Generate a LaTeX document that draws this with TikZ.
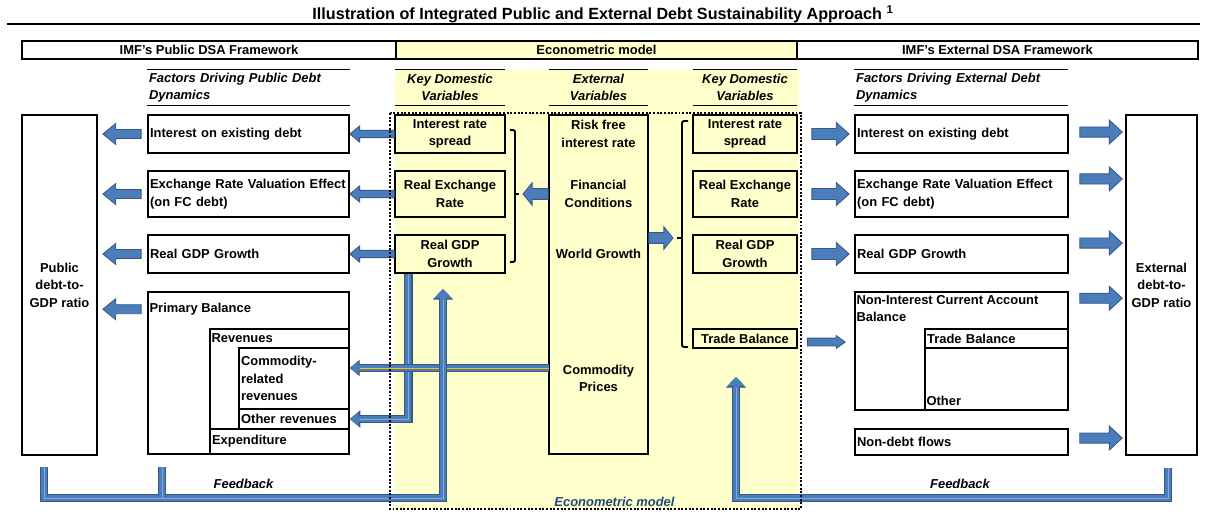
\documentclass[tikz,border=0pt]{standalone}
\usepackage{fontspec}
\setmainfont{Liberation Sans}
\usetikzlibrary{arrows.meta,calc,positioning}

\definecolor{yel}{HTML}{FFFFCC}
\definecolor{arrfill}{HTML}{4A7DBA}
\definecolor{arrline}{HTML}{34598A}
\definecolor{arrlight}{HTML}{86A9D8}
\definecolor{gold}{HTML}{FFC000}
\definecolor{econblue}{HTML}{1F497D}

\begin{document}
\begin{tikzpicture}[x=0.025cm,y=-0.025cm,
  every node/.append style={align=center},
  font=\fontsize{9.2}{12.4}\selectfont\bfseries,
  box/.style={draw, line width=1.1pt, inner sep=0pt},
  lbox/.style={draw, line width=1.1pt, inner ysep=0pt, inner xsep=1.5pt, align=left},
  lbl/.style={inner xsep=1.5pt, inner ysep=0pt, align=left},
  sub/.style={inner xsep=1.5pt, inner ysep=0pt, minimum height=0.875cm, font=\fontsize{9.2}{12.4}\selectfont\bfseries\itshape},
  rule/.style={line width=1.1pt},
  brack/.style={line width=1.4pt, rounded corners=1.5pt},
  blk/.style n args={5}{draw=arrline, fill=arrfill, line width=0.6pt,
    to path={let \p1=($(\tikztostart)!#4!(\tikztotarget)$),
                 \p2=($(\tikztotarget)!#5!(\tikztostart)$),
                 \p3=($(\p2)!#3!(\p1)$) in
      (\x1,\y1+#1) -- (\x3,\y1+#1) -- (\x3,\y1+#2) -- (\x2,\y1)
      -- (\x3,\y1-#2) -- (\x3,\y1-#1) -- (\x1,\y1-#1) -- cycle}},
  topub/.style={blk={3.2pt}{7.5pt}{9.2pt}{4.3pt}{3.6pt}},
  tofacl/.style={blk={2.6pt}{5.7pt}{7pt}{0pt}{0pt}},
  tofacr/.style={blk={3.9pt}{8.2pt}{9.2pt}{10pt}{3.6pt}},
  toext/.style={blk={3.6pt}{8.5pt}{9.2pt}{7.8pt}{2.1pt}},
  tobr/.style={blk={3.8pt}{8pt}{6.5pt}{0pt}{0pt}},
  totb/.style={blk={2.8pt}{4.6pt}{6.4pt}{7pt}{6.4pt}},
  fat/.style n args={5}{draw=arrline, line width=6.2pt, -{Triangle[width=#1,length=#2]},
    postaction={draw=arrfill, line width=4.2pt, -{Triangle[width=#3,length=#4]}},
    postaction={draw=#5, line width=0.7pt, arrows=-, shorten >=#2}}]

\useasboundingbox (0,0) rectangle (1205,514);

% title and top rule
\node[font=\fontsize{11.5}{13}\selectfont\bfseries] (title) at (603,14)
  {Illustration of Integrated Public and External Debt Sustainability Approach \textsuperscript{1}};
\draw[line width=1.4pt] (7,24) -- (1200,24);

% econometric column
\fill[yel] (395,69) rectangle (799,509);

% header bar
\node[box, minimum width=9.35cm, minimum height=0.45cm] (hpub) at (209,50) {IMF's Public DSA Framework};
\node[box, fill=yel, minimum width=10.025cm, minimum height=0.45cm] (hecon) at (596.5,50) {Econometric model};
\node[box, minimum width=10.025cm, minimum height=0.45cm] (hext) at (997.5,50) {IMF's External DSA Framework};

% column titles
\node[sub, text width=141.4pt, align=left] (fpub) at (248.5,87.5) {Factors Driving Public Debt\\Dynamics};
\node[sub, minimum width=2.75cm] (keyL) at (450,87.5) {Key Domestic\\Variables};
\node[sub, minimum width=2.475cm] (extv) at (598.5,87.5) {External\\Variables};
\node[sub, minimum width=2.6cm] (keyR) at (745,87.5) {Key Domestic\\Variables};
\node[sub, text width=149.2pt, align=left] (fext) at (961,87.5) {Factors Driving External Debt\\Dynamics};
\foreach \n in {fpub,keyL,extv,keyR,fext}
  \draw[rule] (\n.north west) -- (\n.north east) (\n.south west) -- (\n.south east);

% debt ratios
\node[box, minimum width=1.875cm, minimum height=8.5cm] (pub) at (59.5,285) {Public\\debt-to-\\GDP ratio};
\node[box, minimum width=1.775cm, minimum height=8.5cm] (ext) at (1161.5,285) {External\\debt-to-\\GDP ratio};

% public debt factors
\node[lbox, text width=140pt, minimum height=0.95cm] (intpub) at (248.5,134) {Interest on existing debt};
\node[lbox, text width=140pt, minimum height=1.15cm] (fxpub) at (248.5,194) {Exchange Rate Valuation Effect\\(on FC debt)};
\node[lbox, text width=140pt, minimum height=0.95cm] (gdppub) at (248.5,254) {Real GDP Growth};
\node[box, minimum width=5.025cm, minimum height=4.05cm] (primbal) at (248.5,373) {};
\node[box, minimum width=3.475cm, minimum height=2.5cm] (rev) at (279.5,379) {};
\node[lbox, text width=75.2pt, minimum height=1.525cm] (comrev) at (294,378.5) {Commodity-\\related\\revenues};
\node[lbox, text width=75.2pt, minimum height=0.5cm] (othrev) at (294,419) {Other revenues};
\node[lbox, text width=95.9pt, minimum height=0.625cm] (expend) at (279.5,441.5) {Expenditure};
\node[lbl, anchor=west] (primlbl) at ([yshift=-0.45cm]primbal.north west) {Primary Balance};
\node[lbl, anchor=west] (revlbl) at ([yshift=-0.2375cm]rev.north west) {Revenues};

% key domestic variables (public side)
\node[box, minimum width=2.75cm, minimum height=0.95cm] (irsL) at (450,134) {Interest rate\\spread};
\node[box, minimum width=2.75cm, minimum height=1.15cm] (rerL) at (450,194) {Real Exchange\\Rate};
\node[box, minimum width=2.75cm, minimum height=0.95cm] (gdpL) at (450,254) {Real GDP\\Growth};

% external variables
\node[box, minimum width=2.475cm, minimum height=8.475cm] (extvar) at (598.5,284.5) {};
\node (rfree) at (extvar |- irsL) {Risk free\\interest rate};
\node (fincond) at (extvar |- rerL) {Financial\\Conditions};
\node (wgrowth) at (extvar |- gdpL) {World Growth};
\node (comprice) at (extvar |- comrev) {Commodity\\Prices};

% key domestic variables (external side)
\node[box, minimum width=2.6cm, minimum height=0.95cm] (irsR) at (745,134) {Interest rate\\spread};
\node[box, minimum width=2.6cm, minimum height=1.15cm] (rerR) at (745,194) {Real Exchange\\Rate};
\node[box, minimum width=2.6cm, minimum height=0.95cm] (gdpR) at (745,254) {Real GDP\\Growth};
\node[box, minimum width=2.6cm, minimum height=0.475cm] (tbR) at (745,338.5) {Trade Balance};

% external debt factors
\node[lbox, text width=148.5pt, minimum height=0.95cm] (intext) at (961.5,134) {Interest on existing debt};
\node[lbox, text width=148.5pt, minimum height=1.15cm] (fxext) at (961.5,194) {Exchange Rate Valuation Effect\\(on FC debt)};
\node[lbox, text width=148.5pt, minimum height=0.95cm] (gdpext) at (961.5,254) {Real GDP Growth};
\node[box, minimum width=5.325cm, minimum height=2.95cm] (nica) at (961.5,351) {};
\node[lbox, text width=98.7pt, minimum height=0.475cm] (tbext) at (996.5,338.5) {Trade Balance};
\node[box, minimum width=3.575cm, minimum height=1.55cm] (othext) at (996.5,379) {};
\node[lbox, text width=148.5pt, minimum height=0.65cm] (ndf) at (961.5,442) {Non-debt flows};
\node[lbl, anchor=north west] (nicalbl) at ([yshift=-0.1cm]nica.north west) {Non-Interest Current Account\\Balance};
\node[lbl, anchor=south west] (othlbl) at ([yshift=0.125cm]othext.south west) {Other};

% brackets
\draw[brack] (510,130) -- (515,130) -- (515,262) -- (510,262);
\draw[brack] (515,194) -- (519,194);
\draw[brack] (688,121) -- (682,121) -- (682,347) -- (688,347);
\draw[brack] (682,238) -- (677,238);
\coordinate (brL) at (523,194);
\coordinate (brR) at (673,238);

% thick lines
\coordinate (comline) at (549,368);
\coordinate (fb1) at (44,467);
\coordinate (fb2) at (162,467);
\coordinate (fbL) at (443,498);
\coordinate (upL) at (443,289);
\coordinate (fbR1) at (1168,468);
\coordinate (fbR) at (736,498);
\coordinate (upR) at (736,377);
\draw[fat={12pt}{7.5pt}{10pt}{6.3pt}{arrlight}] ([xshift=0.35cm]gdpL.south west) |- (othrev.east);
\draw[fat={11pt}{7pt}{9pt}{5.8pt}{gold}] (comline) -- (comline -| comrev.east);
\draw[fat={14pt}{7.5pt}{11.6pt}{6.3pt}{arrlight}] (fb2) -- (fb2 |- fbL) (fb1) |- (fbL) -- (upL);
\draw[fat={14pt}{7.5pt}{11.6pt}{6.3pt}{arrlight}] (fbR1) |- (fbR) -- (upR);

% block arrows
\foreach \b in {intpub,fxpub,gdppub}
  \path[topub] (\b.west) to (\b.west -| pub.east);
\path[topub] (primbal.west |- primlbl) to (pub.east |- primlbl);
\path[tofacl] (irsL.west) to (intpub.east);
\path[tofacl] (rerL.west) to (fxpub.east);
\path[tofacl] (gdpL.west) to (gdppub.east);
\path[tofacr] (irsR.east) to (intext.west);
\path[tofacr] (rerR.east) to (fxext.west);
\path[tofacr] (gdpR.east) to (gdpext.west);
\path[tobr] (extvar.west |- brL) to (brL);
\path[tobr] (extvar.east |- brR) to (brR);
\path[totb] ([yshift=-2.5pt]tbR.east) coordinate (t) to (t -| nica.west);
\foreach \b/\s in {intext.east/1.4pt, fxext.east/10.7pt, gdpext.east/7.8pt, nica.north east/-5pt, ndf.east/2.8pt}
  \path[toext] ([yshift=\s]\b) coordinate (s) to (s -| ext.west);

% econometric model frame
\draw[line width=1.4pt, dash pattern=on 1.4pt off 1.2pt] (390,113) rectangle (801,509);

\node[font=\fontsize{9.2}{11}\selectfont\bfseries\itshape] (fbtxtL) at (243.5,484) {Feedback};
\node[font=\fontsize{9.2}{11}\selectfont\bfseries\itshape] (fbtxtR) at (960,484) {Feedback};
\node[font=\fontsize{9.2}{11}\selectfont\bfseries\itshape, text=econblue] (econlbl) at (614.5,502) {Econometric model};
\end{tikzpicture}
\end{document}
